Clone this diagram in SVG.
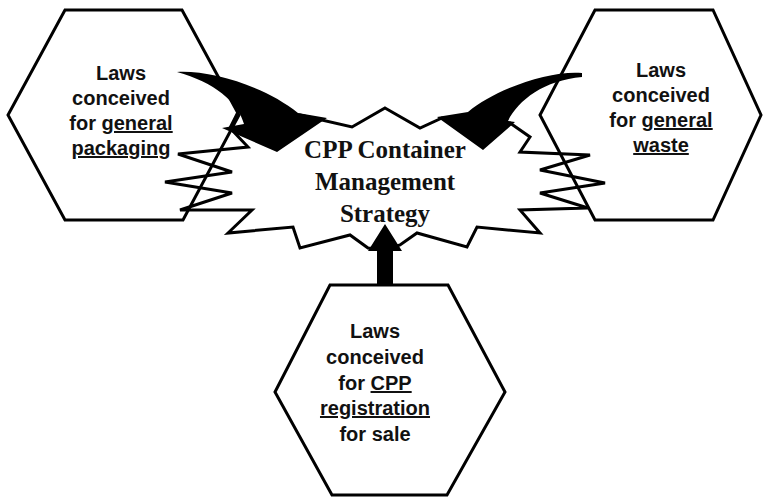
<svg xmlns="http://www.w3.org/2000/svg" width="763" height="497" viewBox="0 0 763 497">
  <style>
    .hex { fill: none; stroke: #000; stroke-width: 3; stroke-linejoin: miter; }
    .star { fill: #fff; stroke: #000; stroke-width: 3; stroke-linejoin: miter; }
    .lbl { font-family: "Liberation Sans", Arial, sans-serif; font-weight: bold; font-size: 20px; fill: #111; text-anchor: middle; }
    .ctr { font-family: "Liberation Serif", "Times New Roman", serif; font-weight: bold; font-size: 25px; fill: #111; text-anchor: middle; }
    .u { text-decoration: underline; }
    .arr { fill: #000; stroke: none; }
  </style>
  <rect x="0" y="0" width="763" height="497" fill="#fff"/>

  <g id="strategy">
    <polygon class="star" points="385,108 420,128 442,118 470,121 510,123 530,137 520,152 590,155 540,170 605,183 540,193 588,208 520,210 540,233 477,227 467,247 417,233 400,245 385,250 368,248 350,235 300,248 293,227 228,233 252,210 180,210 232,193 165,182 232,172 178,154 248,147 230,128 240,108 270,118 300,115 352,127"/>
    <text class="ctr" x="385" y="158">CPP Container</text>
    <text class="ctr" x="385" y="190">Management</text>
    <text class="ctr" x="385" y="222">Strategy</text>
  </g>

  <g id="packaging-laws">
    <polygon class="hex" points="65,10 182,10 239,115 183,220 65,220 8,115"/>
    <text class="lbl" x="121" y="80">Laws</text>
    <text class="lbl" x="121" y="105">conceived</text>
    <text class="lbl" x="121" y="130">for <tspan class="u">general</tspan></text>
    <text class="lbl" x="121" y="155"><tspan class="u">packaging</tspan></text>
  </g>

  <g id="waste-laws">
    <polygon class="hex" points="595,10 713,10 761,115 713,220 595,220 540,115"/>
    <text class="lbl" x="661" y="77">Laws</text>
    <text class="lbl" x="661" y="102">conceived</text>
    <text class="lbl" x="661" y="127">for <tspan class="u">general</tspan></text>
    <text class="lbl" x="661" y="152"><tspan class="u">waste</tspan></text>
  </g>

  <g id="registration-laws">
    <polygon class="hex" points="330,285 448,285 505,392 447,495 332,495 275,392"/>
    <text class="lbl" x="375" y="338">Laws</text>
    <text class="lbl" x="375" y="364">conceived</text>
    <text class="lbl" x="375" y="390">for <tspan class="u">CPP</tspan></text>
    <text class="lbl" x="375" y="415"><tspan class="u">registration</tspan></text>
    <text class="lbl" x="375" y="441">for sale</text>
  </g>

  <g id="connectors">
    <path class="arr" d="M177,72 C210,70 265,86 298,113 L327,118 L277,152 L222,128 L244,124 C238,102 214,82 177,72 Z"/>
    <path class="arr" d="M582,73 C552,70 496,88 468,112 L437,117 L483,150 L515,122 L508,121 C518,100 545,80 582,77 Z"/>
    <polygon class="arr" points="385,224 402,251 393,251 393,286 377,286 377,251 368,251"/>
  </g>
</svg>
